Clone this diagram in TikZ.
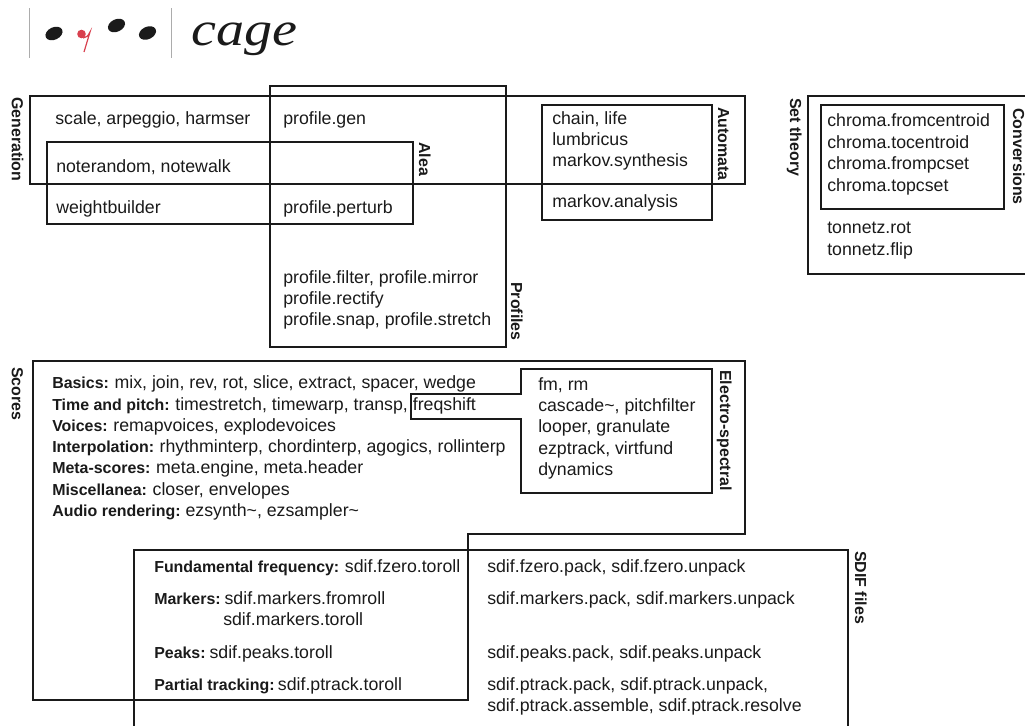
\documentclass[tikz,border=0pt]{standalone}
\usepackage{fontspec}
\setmainfont{Liberation Sans}
\newfontfamily\logofont{Liberation Serif}[FakeStretch=1.17]
\newcommand\headword[1]{{\fontsize{11.95pt}{14pt}\selectfont\bfseries #1}}
\definecolor{ink}{HTML}{1A1A1A}
\definecolor{notered}{HTML}{D8404E}
\tikzset{
  box/.style={draw=ink,line width=1.4pt},
  txt/.style={anchor=base west,inner sep=0pt,text=ink,font=\fontsize{13.3pt}{15pt}\selectfont},
  lbl/.style={anchor=base west,rotate=-90,inner sep=0pt,text=ink,font=\bfseries\fontsize{11.95pt}{14pt}\selectfont},
}
\begin{document}
\begin{tikzpicture}[x=0.75pt,y=-0.75pt]
\useasboundingbox (0,0) rectangle (1025,725);
% logo
\draw[gray!65,line width=1.3pt] (29.5,8) -- (29.5,58) (171.5,8) -- (171.5,58);
\fill[ink,rotate around={25:(54,33.5)}] (54,33.5) ellipse (9 and 6.2);
\fill[ink,rotate around={25:(116.5,25.5)}] (116.5,25.5) ellipse (9 and 6.2);
\fill[ink,rotate around={25:(147.5,33)}] (147.5,33) ellipse (9 and 6.2);
\fill[notered] (81.5,34) circle (4.3);
\draw[notered,line width=0.9pt] (83,38) .. controls (86,38) and (88,36) .. (90,32) -- (84,52);
\node[anchor=base west,inner sep=0pt,text=ink,font=\logofont\itshape\fontsize{36pt}{36pt}\selectfont] (cage) at (191,45) {cage};
% boxes
\draw[box] (30,96) rectangle (745,184);
\draw[box] (270,86) rectangle (506,347);
\draw[box] (47,142) rectangle (413,224);
\draw[box] (542,105) rectangle (712,220);
\draw[box] (1030,96) -- (808,96) -- (808,274) -- (1030,274);
\draw[box] (821,105) rectangle (1004,209);
\draw[box] (33,361) -- (745,361) -- (745,534) -- (468,534) -- (468,700) -- (33,700) -- cycle;
\draw[box] (521,369) -- (712,369) -- (712,493) -- (521,493) -- (521,419) -- (411,419) -- (411,394) -- (521,394) -- cycle;
\draw[box] (134,735) -- (134,550) -- (848,550) -- (848,735);
% labels
\node[lbl] (lgen) at (12,97) {Generation};
\node[lbl] (lalea) at (419,142) {Alea};
\node[lbl] (lprof) at (511,282) {Profiles};
\node[lbl] (lauto) at (718,107) {Automata};
\node[lbl] (lset) at (790,98) {Set theory};
\node[lbl] (lconv) at (1013,108) {Conversions};
\node[lbl] (lscores) at (12,367) {Scores};
\node[lbl] (lelec) at (720,370) {Electro-spectral};
\node[lbl] (lsdif) at (855,551) {SDIF files};
% generation
\node[txt] (t1) at (55,124) {scale, arpeggio, harmser};
\node[txt] (t2) at (283,124) {profile.gen};
\node[txt] (t3) at (56,172) {noterandom, notewalk};
\node[txt] (t4) at (56,213) {weightbuilder};
\node[txt] (t5) at (283,213) {profile.perturb};
\node[txt] (t6) at (283,283) {profile.filter, profile.mirror};
\node[txt] (t7) at (283,304) {profile.rectify};
\node[txt] (t8) at (283,325) {profile.snap, profile.stretch};
\node[txt] (a1) at (552,124) {chain, life};
\node[txt] (a2) at (552,145) {lumbricus};
\node[txt] (a3) at (552,166) {markov.synthesis};
\node[txt] (a4) at (552,207) {markov.analysis};
\node[txt] (c1) at (827,126) {chroma.fromcentroid};
\node[txt] (c2) at (827,148) {chroma.tocentroid};
\node[txt] (c3) at (827,169) {chroma.frompcset};
\node[txt] (c4) at (827,191) {chroma.topcset};
\node[txt] (c5) at (827,233) {tonnetz.rot};
\node[txt] (c6) at (827,255) {tonnetz.flip};
% scores
\node[txt] (s1) at (52,388) {\headword{Basics:}\kern-0.7pt{} mix, join, rev, rot, slice, extract, spacer, wedge};
\node[txt] (s2) at (52,410) {\headword{Time and pitch:}\kern-0.7pt{} timestretch, timewarp, transp, freqshift};
\node[txt] (s3) at (52,431) {\headword{Voices:}\kern-0.7pt{} remapvoices, explodevoices};
\node[txt] (s4) at (52,452) {\headword{Interpolation:}\kern-0.7pt{} rhythminterp, chordinterp, agogics, rollinterp};
\node[txt] (s5) at (52,473) {\headword{Meta-scores:}\kern-0.7pt{} meta.engine, meta.header};
\node[txt] (s6) at (52,495) {\headword{Miscellanea:}\kern-0.7pt{} closer, envelopes};
\node[txt] (s7) at (52,516) {\headword{Audio rendering:}\kern-1.2pt{} ezsynth\textasciitilde, ezsampler\textasciitilde};
\node[txt] (e1) at (538,390) {fm, rm};
\node[txt] (e2) at (538,411) {cascade\textasciitilde, pitchfilter};
\node[txt] (e3) at (538,432) {looper, granulate};
\node[txt] (e4) at (538,454) {ezptrack, virtfund};
\node[txt] (e5) at (538,475) {dynamics};
% sdif
\node[txt] (d1) at (154,572) {\headword{Fundamental frequency:}\kern-0.7pt{} sdif.fzero.toroll};
\node[txt] (d2) at (154,604) {\headword{Markers:}\kern-2pt{} sdif.markers.fromroll};
\node[txt] (d3) at (223,625) {sdif.markers.toroll};
\node[txt] (d4) at (154,658) {\headword{Peaks:}\kern-2pt{} sdif.peaks.toroll};
\node[txt] (d5) at (154,690) {\headword{Partial tracking:}\kern-2.5pt{} sdif.ptrack.toroll};
\node[txt] (f1) at (487,572) {sdif.fzero.pack, sdif.fzero.unpack};
\node[txt] (f2) at (487,604) {sdif.markers.pack, sdif.markers.unpack};
\node[txt] (f3) at (487,658) {sdif.peaks.pack, sdif.peaks.unpack};
\node[txt] (f4) at (487,690) {sdif.ptrack.pack, sdif.ptrack.unpack,};
\node[txt] (f5) at (487,711) {sdif.ptrack.assemble, sdif.ptrack.resolve};
\end{tikzpicture}
\end{document}
